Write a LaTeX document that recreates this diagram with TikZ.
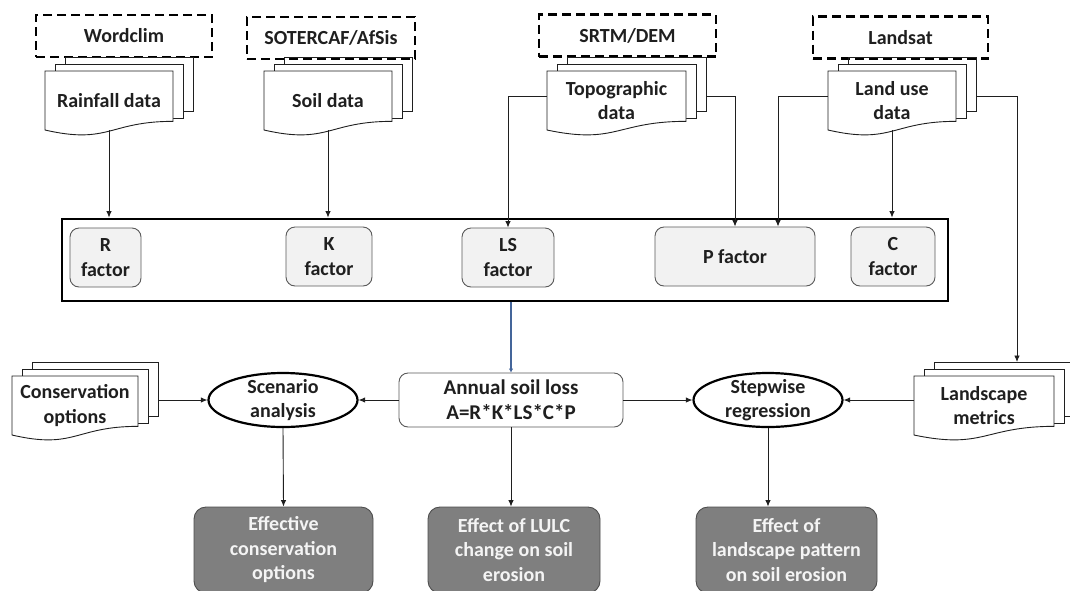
\documentclass[tikz,border=0pt]{standalone}
\usepackage{fontspec}
\setmainfont{Carlito}
\usetikzlibrary{shapes.geometric,arrows.meta}

\definecolor{ink}{HTML}{1F1F1F}
\definecolor{edge}{HTML}{595959}
\definecolor{factorfill}{HTML}{F2F2F2}
\definecolor{darkfill}{HTML}{7F7F7F}
\definecolor{darkedge}{HTML}{4D4D4D}
\definecolor{darktext}{HTML}{F4F4F4}
\definecolor{bluelink}{HTML}{44659A}

\tikzset{
  lbl/.style={font=\fontsize{20}{24.5}\selectfont\bfseries, text=ink, align=center},
  src/.style={lbl, draw=black, line width=2.8pt, dash pattern=on 9pt off 5pt,
    minimum height=42pt, inner sep=0pt},
  factorbox/.style={lbl, draw=edge, fill=factorfill, rounded corners=9pt,
    line width=0.9pt, minimum height=59pt, inner sep=0pt},
  docline/.style={draw=ink, line width=0.9pt, fill=white},
  frame/.style={draw=black, line width=2.8pt, inner sep=0pt},
  lossbox/.style={lbl, font=\fontsize{21}{25}\selectfont\bfseries, draw=edge, fill=white,
    rounded corners=9pt, line width=0.9pt,
    minimum width=224pt, minimum height=54pt, inner sep=0pt},
  oval/.style={ellipse, draw=black, line width=2.2pt, fill=white,
    minimum width=149pt, minimum height=54pt, inner sep=0pt},
  result/.style={lbl, text=darktext, draw=darkedge, fill=darkfill, rounded corners=12pt,
    line width=0.9pt, minimum height=86pt, inner sep=0pt},
  conn/.style={draw=ink, line width=0.9pt, -{Latex[length=6.5pt,width=5.5pt]}},
  bluearrow/.style={draw=bluelink, line width=2.8pt, -{Latex[length=4pt,width=4.5pt]}},
}

% stacked-document symbol: name, left, top, right, bottom-left, text
\newcommand{\multidoc}[6]{%
  \pgfmathsetmacro{\mdH}{(#5-#3)/0.92}%
  \pgfmathsetmacro{\mdRb}{#3+0.785*\mdH}%
  \pgfmathsetmacro{\mdCc}{#3+1.15*\mdH}%
  \pgfmathsetmacro{\mdM}{(#2+#4)/2}%
  \pgfmathsetmacro{\mdC}{(#3+#5)/2}%
  \pgfmathsetmacro{\mdW}{#4-#2}%
  \pgfmathsetmacro{\mdV}{#5-#3}%
  \draw[docline, fill=none] (#2+20,#3-7) -- (#2+20,#3-14) -- (#4+20,#3-14)
    -- (#4+20,\mdRb-10) -- (#4+10,\mdRb-10);
  \draw[docline, fill=none] (#2+10,#3) -- (#2+10,#3-7) -- (#4+10,#3-7)
    -- (#4+10,\mdRb-3) -- (#4,\mdRb-3);
  \draw[docline] (#2,#3) -- (#4,#3) -- (#4,\mdRb)
    .. controls (\mdM,\mdRb) and (\mdM,\mdCc) .. (#2,#5) -- cycle;
  \node[lbl, minimum width=\mdW pt, minimum height=\mdV pt, inner sep=0pt]
    (#1) at (\mdM,\mdC) {#6};
  \coordinate (#1-e) at (#4+20,\mdC);
}

\begin{document}
\begin{tikzpicture}[x=1pt, y=-1pt]
\useasboundingbox (0,0) rectangle (1070,590);
\clip (0,0) rectangle (1070,590);

% data sources
\node[src, minimum width=176pt] (wc) at (124,36) {Wordclim};
\node[src, minimum width=168pt] (soter) at (331,38) {SOTERCAF/AfSis};
\node[src, minimum width=177pt] (srtm) at (627.5,35.5) {SRTM/DEM};
\node[src, minimum width=175pt] (lsat) at (900.5,37.5) {Landsat};

% input data sets
\multidoc{rain}{45}{71}{173}{130}{Rainfall data}
\multidoc{soil}{264}{71}{392}{130}{Soil data}
\multidoc{topo}{547}{71}{686}{130}{Topographic\\data}
\multidoc{land}{828}{71}{956}{130}{Land use\\data}

% RUSLE factors
\node[frame, minimum width=886pt, minimum height=82pt] (fr) at (505,260) {};
\node[factorbox, minimum width=71pt] (rf) at (105.5,257.5) {R\\factor};
\node[factorbox, minimum width=86pt] (kf) at (329,256.5) {K\\factor};
\node[factorbox, minimum width=92pt] (ls) at (508,257.5) {LS\\factor};
\node[factorbox, minimum width=160pt] (pf) at (735,256.5) {P factor};
\node[factorbox, minimum width=84pt] (cf) at (893,256.5) {C\\factor};

% analysis row
\node[lossbox] (annual) at (511,400) {Annual soil loss\\A=R*K*LS*C*P};
\node[oval] (scen) at (283,400) {};
\node[lbl] (scen-t) at (scen) {Scenario\\analysis};
\node[oval] (step) at (768,400) {};
\node[lbl] (step-t) at (step) {Stepwise\\regression};
\multidoc{cons}{12}{376}{138}{435}{Conservation\\options}
\multidoc{lm}{914}{376}{1054}{435}{Landscape\\metrics}
\coordinate (lmin) at (1017,362);

% outcomes
\node[result, minimum width=179pt] (eff) at (283.5,550) {Effective\\conservation\\options};
\node[result, minimum width=172pt] (lulc) at (514,550) {Effect of LULC\\change on soil\\erosion};
\node[result, minimum width=181pt] (pat) at (786.5,550) {Effect of\\landscape pattern\\on soil erosion};

% connectors
\draw[conn] (rain.south) -- (rain.south |- fr.north);
\draw[conn] (soil.south) -- (soil.south |- fr.north);
\draw[conn] ([yshift=4.5pt]topo.west) -| (ls.north);
\draw[conn] ([yshift=4.5pt]topo-e) -| (pf.north);
\draw[conn] ([yshift=4.5pt]land.west) -| ([xshift=43pt]pf.north);
\draw[conn] (land.south) -- (land.south |- fr.north);
\draw[conn] ([yshift=4.5pt]land-e) -| (lmin);
\draw[bluearrow] (annual.north |- fr.south) -- (annual.north);
\draw[conn] (cons-e |- scen.west) -- (scen.west);
\draw[conn] (annual.west) -- (scen.east);
\draw[conn] (annual.east) -- (step.west);
\draw[conn] (step.east -| lm.west) -- (step.east);
\draw[conn] (scen.south) -- (eff.north);
\draw[conn] (annual.south) -- (annual.south |- lulc.north);
\draw[conn] (step.south) -- (step.south |- pat.north);
\end{tikzpicture}
\end{document}
